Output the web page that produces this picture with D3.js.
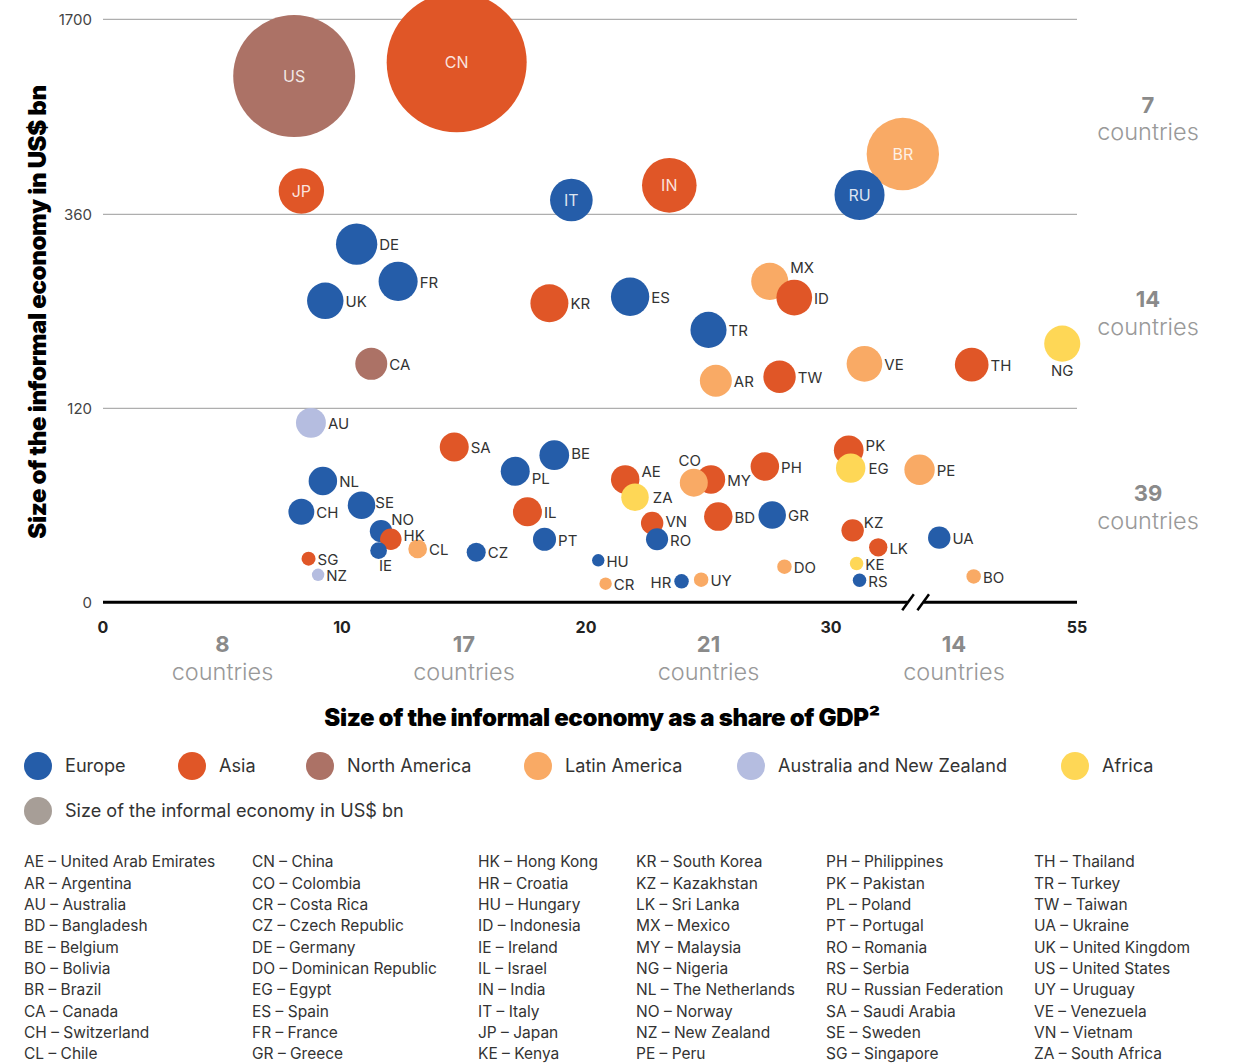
<!DOCTYPE html>
<html><head><meta charset="utf-8">
<script src="https://cdn.jsdelivr.net/npm/d3@7"></script>
<style>
body{margin:0;background:#fff;}
svg{display:block;font-family:Inter,"Noto Sans",sans-serif;}
</style></head><body>
<svg id="chart" width="1237" height="1063"></svg>
<script>
// ---------------- DATA ----------------
const codes = ["US","CN","JP","IT","IN","BR","RU","DE","FR","UK","CA","KR","ES","TR","MX","ID","AR","TW","VE","TH","NG",
  "AU","NL","CH","SE","NO","HK","IE","SG","NZ","SA","BE","PL","IL","PT","CZ","CL","AE","ZA","MY","CO","PH","VN","RO","BD","GR",
  "HU","CR","HR","UY","DO","PK","EG","PE","KZ","LK","UA","KE","RS","BO"];
const regionOf = ["North America","Asia","Asia","Europe","Asia","Latin America","Europe","Europe","Europe","Europe","North America","Asia","Europe","Europe","Latin America","Asia","Latin America","Asia","Latin America","Asia","Africa",
  "Australia and New Zealand","Europe","Europe","Europe","Europe","Asia","Europe","Asia","Australia and New Zealand","Asia","Europe","Europe","Asia","Europe","Europe","Latin America","Asia","Africa","Asia","Latin America","Asia","Asia","Europe","Asia","Europe",
  "Europe","Latin America","Europe","Latin America","Latin America","Asia","Africa","Latin America","Asia","Asia","Europe","Africa","Europe","Latin America"];
// informal economy as share of GDP (%)
const shareOfGDP = [8.0,14.7,8.3,19.4,23.4,37.3,32.9,10.6,12.3,9.3,11.2,18.5,21.8,25.0,27.5,28.5,25.3,27.9,33.4,44.3,53.5,
  8.7,9.2,8.3,10.8,11.6,12.0,11.5,8.6,9.0,14.6,18.7,17.1,17.6,18.3,15.5,13.1,21.6,22.0,25.1,24.4,27.3,22.7,22.9,25.4,27.6,
  20.5,20.8,23.9,24.7,28.1,31.8,32.0,39.0,32.2,34.8,41.0,32.6,32.9,44.5];
// informal economy size (US$ bn) - vertical position
const sizeBn = [1310,1404,520,458,559,774,493,323,277,253,175,250,258,217,277,257,154,159,175,174,200,
  111,75,56,60,44,39,32,27,17,96,91,81,56,39,31,33,76,65,76,74,84,49,39,53,54,
  26,11.5,13,14,22,94,83,82,44.5,34,40,24,13.6,16];
// bubble size value (US$ bn)
const bubbleBn = [1063,1400,147,130,213,374,179,122,109,95,73,103,105,93,98,91,73,75,91,81,93,
  64,58,48,54,36,33,20,14,11,60,63,60,60,38,26,25,58,54,58,56,58,36,35,58,54,
  11,11,15,15,15,63,62,66,36,24,36,13,13,15];

const xTickValues = [0,10,20,30,55];
const xTickLabels = ["0","10","20","30","55"];
const yTickValues = [0,120,360,1700];
const yTickLabels = ["0","120","360","1700"];

const regions = ["Europe","Asia","North America","Latin America","Australia and New Zealand","Africa"];
const regionColors = ["#255DA9","#E05627","#AC7266","#F9AA65","#B5BDE0","#FED756"];
const sizeLegendLabel = "Size of the informal economy in US$ bn";
const sizeLegendColor = "#A79E97";

const countryList = [
 "AE – United Arab Emirates","AR – Argentina","AU – Australia","BD – Bangladesh","BE – Belgium","BO – Bolivia","BR – Brazil","CA – Canada","CH – Switzerland","CL – Chile",
 "CN – China","CO – Colombia","CR – Costa Rica","CZ – Czech Republic","DE – Germany","DO – Dominican Republic","EG – Egypt","ES – Spain","FR – France","GR – Greece",
 "HK – Hong Kong","HR – Croatia","HU – Hungary","ID – Indonesia","IE – Ireland","IL – Israel","IN – India","IT – Italy","JP – Japan","KE – Kenya",
 "KR – South Korea","KZ – Kazakhstan","LK – Sri Lanka","MX – Mexico","MY – Malaysia","NG – Nigeria","NL – The Netherlands","NO – Norway","NZ – New Zealand","PE – Peru",
 "PH – Philippines","PK – Pakistan","PL – Poland","PT – Portugal","RO – Romania","RS – Serbia","RU – Russian Federation","SA – Saudi Arabia","SE – Sweden","SG – Singapore",
 "TH – Thailand","TR – Turkey","TW – Taiwan","UA – Ukraine","UK – United Kingdom","US – United States","UY – Uruguay","VE – Venezuela","VN – Vietnam","ZA – South Africa"];

// ---------------- LAYOUT / STYLE ----------------
const insideLabels = new Set(["US","CN","JP","IT","IN","BR","RU"]);
// label placement tweaks: [anchor, dx, dy] relative to default right-side placement
const labelTweaks = {
  MX:["start",0,-15], NO:["start",-3,-12.5], HK:["start",0,-4.5], KZ:["start",-2,-8.5], PK:["start",0,-6],
  SE:["start",-2,-4], PL:["start",0,6], AE:["start",0,-9], ZA:["start",2,0], VN:["start",0,-2.5],
  KE:["start",0,0.5], RS:["start",0,0.8], BE:["start",0,-2.5], EG:["start",1,0]
};
const specialLabels = { // fully custom placements relative to centre
  IE:(cx,cy,r)=>({x:cx+7,y:cy+15,a:"middle"}),
  CO:(cx,cy,r)=>({x:cx-4,y:cy-22,a:"middle"}),
  HR:(cx,cy,r)=>({x:cx-r-3,y:cy+1.5,a:"end"}),
  NG:(cx,cy,r)=>({x:cx,y:cy+r+9,a:"middle"})
};

const svg = d3.select("#chart");
const x = d3.scaleLinear().domain(xTickValues).range([103,342,586,831,1077]);
const y = d3.scaleLinear().domain(yTickValues).range([602.3,408.3,214.3,19.3]);
const r = d3.scaleSqrt().domain([0,1400]).range([0,70]);
const color = d3.scaleOrdinal().domain(regions).range(regionColors);

const data = codes.map((c,i)=>({code:c,region:regionOf[i],share:shareOfGDP[i],size:sizeBn[i],bubble:bubbleBn[i]}));

// gridlines
svg.append("g").selectAll("line").data(yTickValues.filter(v=>v>0)).join("line")
  .attr("x1",x(0)).attr("x2",x(55)).attr("y1",d=>y(d)).attr("y2",d=>y(d))
  .attr("stroke","#9a9a9a").attr("stroke-width",1);

// y tick labels
svg.append("g").selectAll("text").data(yTickValues).join("text")
  .attr("x",92).attr("y",d=>y(d)).attr("dy","0.35em").attr("text-anchor","end")
  .attr("font-size",15).attr("fill","#444").text((d,i)=>yTickLabels[i]);

// zero axis with break
const bx = x(38.6), y0 = y(0);
const axisG = svg.append("g");
axisG.append("line").attr("x1",x(0)).attr("x2",bx-7.8).attr("y1",y0).attr("y2",y0).attr("stroke","#000").attr("stroke-width",3);
axisG.append("line").attr("x1",bx+7.8).attr("x2",x(55)).attr("y1",y0).attr("y2",y0).attr("stroke","#000").attr("stroke-width",3);
[-7.6,7.6].forEach(o=>{
  axisG.append("line").attr("x1",bx+o-5.8).attr("y1",y0+8).attr("x2",bx+o+5.8).attr("y2",y0-8)
    .attr("stroke","#000").attr("stroke-width",2.5);
});

// x tick labels
svg.append("g").selectAll("text").data(xTickValues).join("text")
  .attr("x",d=>x(d)).attr("y",627).attr("dy","0.35em").attr("text-anchor","middle")
  .attr("font-size",16).attr("font-weight",700).attr("fill","#222").text((d,i)=>xTickLabels[i]);

// bubbles
const bubbles = svg.append("g");
bubbles.selectAll("circle").data(data).join("circle")
  .attr("cx",d=>x(d.share)).attr("cy",d=>y(d.size)).attr("r",d=>r(d.bubble))
  .attr("fill",d=>color(d.region));

// labels
const lab = svg.append("g").attr("font-size",15);
data.forEach(d=>{
  const cx=x(d.share), cy=y(d.size), rr=r(d.bubble);
  let px,py,anchor="start",fill="#333";
  if(insideLabels.has(d.code)){px=cx;py=cy;anchor="middle";fill="rgba(255,255,255,0.85)";}
  else if(specialLabels[d.code]){const p=specialLabels[d.code](cx,cy,rr);px=p.x;py=p.y;anchor=p.a;}
  else{
    px=cx+rr+2; py=cy+1;
    const t=labelTweaks[d.code]; if(t){px+=t[1];py+=t[2];}
  }
  lab.append("text").attr("x",px).attr("y",py).attr("dy","0.35em").attr("text-anchor",anchor)
    .attr("fill",fill).attr("font-size",insideLabels.has(d.code)?16:15).text(d.code);
});

// counts per band
const yBands = [[360,1700],[120,360],[0,120]];
const xBands = [[0,10],[10,20],[20,30],[30,55]];
const countG = svg.append("g").attr("text-anchor","middle");
yBands.forEach(([lo,hi])=>{
  const n = data.filter(d=>d.size>=lo && d.size<hi).length;
  const c = (y(lo)+y(hi))/2;
  countG.append("text").attr("x",1148).attr("y",c-12).attr("dy","0.35em").attr("font-size",22).attr("font-weight",700).attr("fill","#8a8a8a").text(n);
  countG.append("text").attr("x",1148).attr("y",c+15).attr("dy","0.35em").attr("font-size",23.5).attr("font-weight",300).attr("fill","#999").text("countries");
});
xBands.forEach(([lo,hi])=>{
  const n = data.filter(d=>d.share>=lo && d.share<hi).length;
  const c = (x(lo)+x(hi))/2;
  countG.append("text").attr("x",c).attr("y",644).attr("dy","0.35em").attr("font-size",22).attr("font-weight",700).attr("fill","#8a8a8a").text(n);
  countG.append("text").attr("x",c).attr("y",672).attr("dy","0.35em").attr("font-size",23.5).attr("font-weight",300).attr("fill","#999").text("countries");
});

// axis titles
svg.append("text").attr("x",602).attr("y",718).attr("dy","0.35em").attr("text-anchor","middle")
  .attr("font-size",24).attr("font-weight",900).attr("fill","#000").attr("letter-spacing","-0.35")
  .text("Size of the informal economy as a share of GDP²");
svg.append("text").attr("transform","translate(38,312) rotate(-90)").attr("dy","0.35em").attr("text-anchor","middle")
  .attr("font-size",24).attr("font-weight",900).attr("fill","#000").attr("letter-spacing","-0.35")
  .text("Size of the informal economy in US$ bn");

// legend
const legX = [38,192,320,538,751,1075];
const leg = svg.append("g").attr("font-size",18.1).attr("fill","#333");
regions.forEach((g,i)=>{
  leg.append("circle").attr("cx",legX[i]).attr("cy",766).attr("r",14).attr("fill",color(g));
  leg.append("text").attr("x",legX[i]+27).attr("y",766).attr("dy","0.35em").attr("fill","#333").text(g);
});
leg.append("circle").attr("cx",38).attr("cy",811).attr("r",14).attr("fill",sizeLegendColor);
leg.append("text").attr("x",65).attr("y",811).attr("dy","0.35em").attr("fill","#333").text(sizeLegendLabel);

// country list
const colX = [24,252,478,636,826,1034];
svg.append("g").attr("font-size",15.5).attr("fill","#333").selectAll("text").data(countryList).join("text")
  .attr("x",(d,i)=>colX[Math.floor(i/10)]).attr("y",(d,i)=>862+(i%10)*21.3).attr("dy","0.35em").text(d=>d);
</script>
</body></html>
